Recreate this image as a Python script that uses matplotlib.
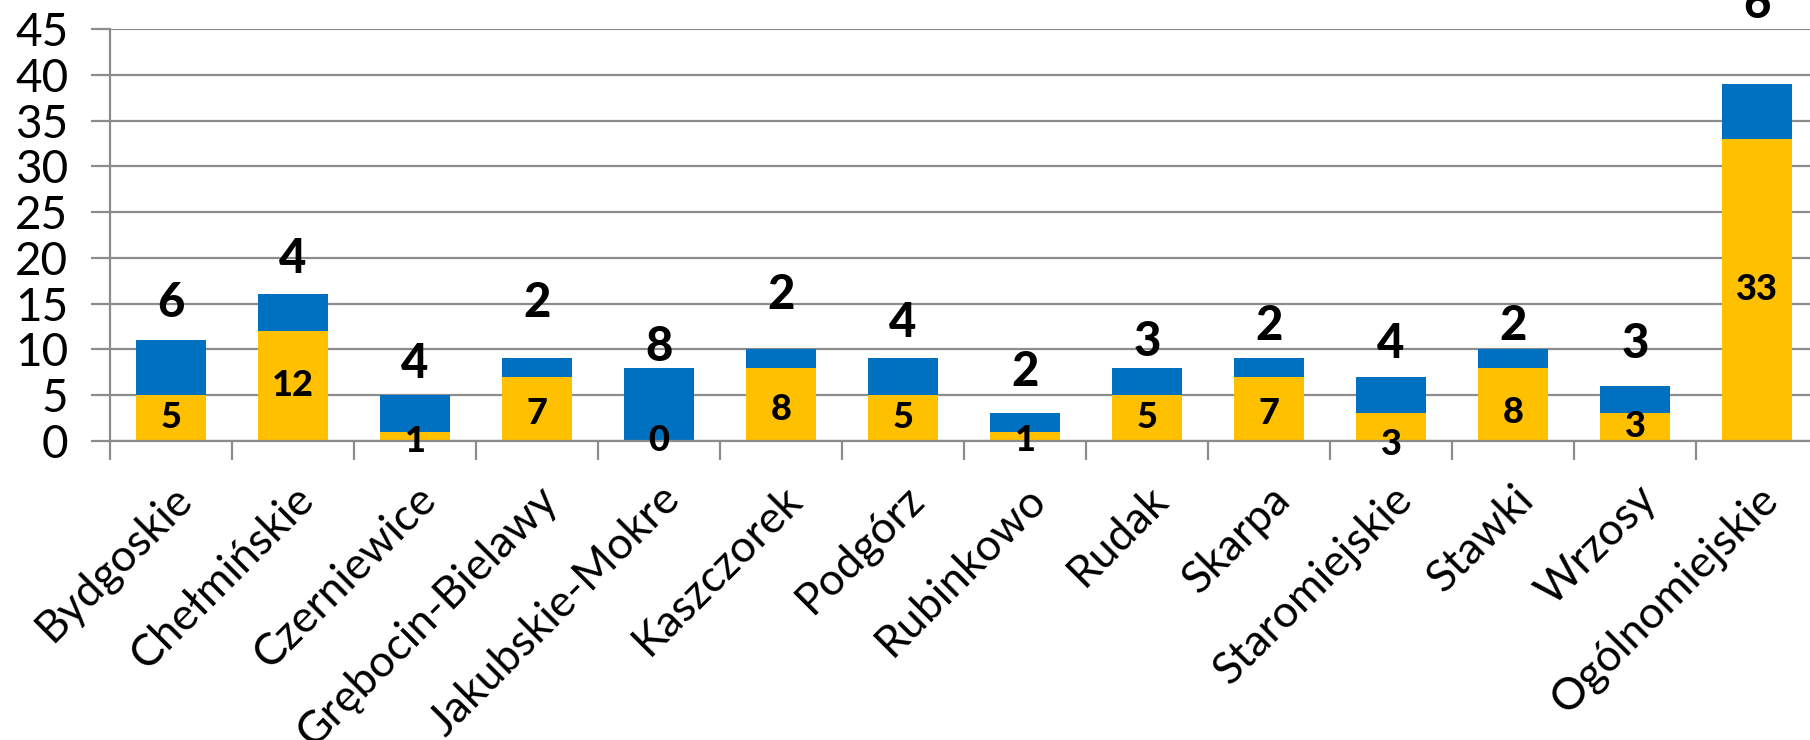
import matplotlib
matplotlib.use("Agg")
import matplotlib.pyplot as plt
import numpy as np

categories = ["Bydgoskie", "Chełmińskie", "Czerniewice", "Grębocin-Bielawy",
              "Jakubskie-Mokre", "Kaszczorek", "Podgórz", "Rubinkowo", "Rudak",
              "Skarpa", "Staromiejskie", "Stawki", "Wrzosy", "Ogólnomiejskie"]
yellow_vals = [5, 12, 1, 7, 0, 8, 5, 1, 5, 7, 3, 8, 3, 33]
blue_vals = [6, 4, 4, 2, 8, 2, 4, 2, 3, 2, 4, 2, 3, 6]
y_ticks = [0, 5, 10, 15, 20, 25, 30, 35, 40, 45]

# layout tweaks for the label placement (offsets in data units)
blue_label_offsets = [4.1, 3.9, 3.4, 6.1, 2.3, 5.9, 3.9, 4.5, 2.8, 3.6, 3.6, 2.6, 4.6, 8.8]
yellow_label_offsets = [0, 0, -0.6, -0.5, 0, -0.6, 0, -0.5, 0, -0.5, -1.9, -0.9, 0, 0]

plt.rcParams['font.family'] = ['Lato', 'DejaVu Sans']

YELLOW = "#FFC000"
BLUE = "#0070C0"
GRID = "#8C8C8C"

fig = plt.figure(figsize=(18.1, 7.4), dpi=100)
ax = fig.add_axes([110/1810, (740-440.7)/740, 1708/1810, 411.4/740])

x = np.arange(len(categories))
yv = np.array(yellow_vals)
bv = np.array(blue_vals)
ax.bar(x, yv, width=0.57, color=YELLOW, zorder=3)
ax.bar(x, bv, width=0.57, bottom=yv, color=BLUE, zorder=3)

for i in range(len(categories)):
    ax.text(x[i], yv[i] / 2 + yellow_label_offsets[i], str(yv[i]), ha='center', va='center',
            fontsize=26, fontweight='black', color='black', zorder=5, clip_on=False)
    ax.text(x[i], yv[i] + bv[i] + blue_label_offsets[i], str(bv[i]), ha='center', va='center',
            fontsize=34, fontweight='black', color='black', zorder=5, clip_on=False)

ax.set_xlim(-0.5, len(categories) - 0.5)
ax.set_ylim(0, 45)
ax.set_yticks(y_ticks)
ax.set_yticklabels([str(t) for t in y_ticks], fontsize=33)
ax.yaxis.grid(True, color=GRID, linewidth=1.6, zorder=0)
ax.set_axisbelow(True)

ax.set_xticks(x)
ax.set_xticklabels(categories, rotation=45, ha='right', va='top', rotation_mode='anchor',
                   fontsize=32)
ax.set_xticks(np.arange(len(categories) + 1) - 0.5, minor=True)
ax.tick_params(axis='x', which='major', length=0, pad=27)
ax.tick_params(axis='x', which='minor', length=14, width=1.6, color=GRID, direction='out')
ax.tick_params(axis='y', length=14, width=1.6, color=GRID, direction='out', pad=16)

for s in ['top', 'right']:
    ax.spines[s].set_visible(False)
ax.spines['left'].set_color(GRID)
ax.spines['left'].set_linewidth(1.6)
ax.spines['bottom'].set_color(GRID)
ax.spines['bottom'].set_linewidth(1.6)
ax.spines['bottom'].set_zorder(4)

fig.savefig("out.png", dpi=100)
